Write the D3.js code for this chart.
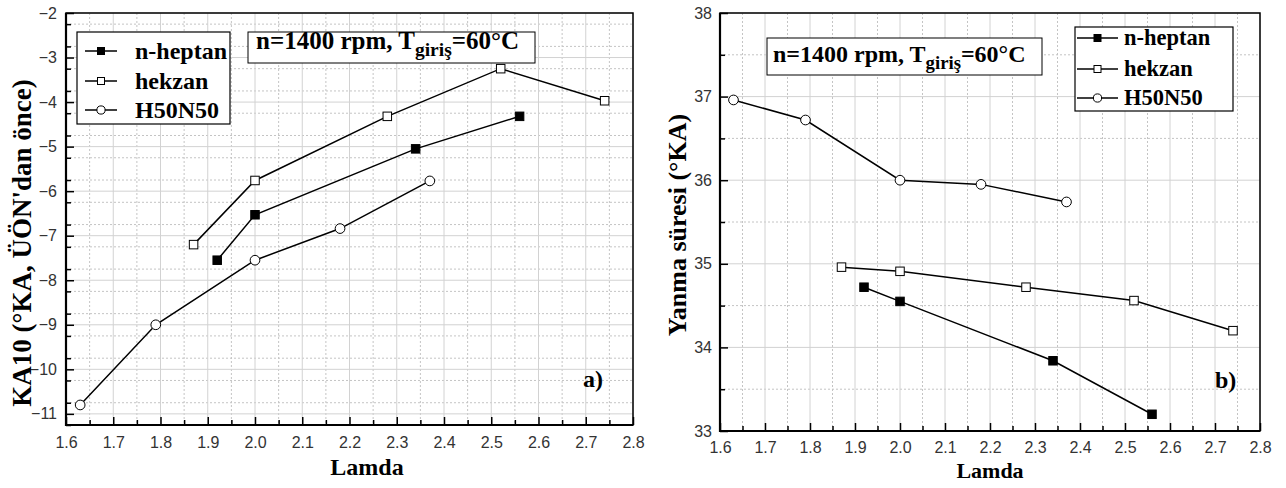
<!DOCTYPE html>
<html>
<head>
<meta charset="utf-8">
<script src="https://cdn.jsdelivr.net/npm/d3@7"></script>
<style>
  html, body { margin: 0; padding: 0; background: #fff; }
  svg { display: block; }
</style>
</head>
<body>
<svg id="chart" width="1286" height="488"></svg>
<script>
// ---------- DATA ----------
const seriesNames = ["n-heptan", "hekzan", "H50N50"];
const lamdaHeptan = [1.92, 2.0, 2.34, 2.56];
const lamdaHekzan = [1.87, 2.0, 2.28, 2.52, 2.74];
const lamdaH50N50 = [1.63, 1.79, 2.0, 2.18, 2.37];

const ka10Heptan = [-7.55, -6.53, -5.05, -4.32];
const ka10Hekzan = [-7.2, -5.76, -4.32, -3.25, -3.97];
const ka10H50N50 = [-10.8, -9.0, -7.55, -6.84, -5.77];

const yanmaHeptan = [34.72, 34.55, 33.84, 33.2];
const yanmaHekzan = [34.96, 34.91, 34.72, 34.56, 34.2];
const yanmaH50N50 = [36.96, 36.72, 36.0, 35.95, 35.74];

const xTickLabels = ["1.6","1.7","1.8","1.9","2.0","2.1","2.2","2.3","2.4","2.5","2.6","2.7","2.8"];
const leftYTicks = [-11, -10, -9, -8, -7, -6, -5, -4, -3, -2];
const rightYTicks = [33, 34, 35, 36, 37, 38];

const xLabel = "Lamda";
const leftYLabel = "KA10 (°KA, ÜÖN'dan önce)";
const rightYLabel = "Yanma süresi (°KA)";
// ---------------------------

const svg = d3.select("#chart");
const serif = "'Liberation Serif', 'Times New Roman', serif";
const sans = "'Liberation Sans', Arial, sans-serif";

function drawPanel(cfg) {
  const g = svg.append("g");
  const x = d3.scaleLinear().domain(cfg.xDomain).range([cfg.left, cfg.right]);
  const y = d3.scaleLinear().domain(cfg.yDomain).range([cfg.bottom, cfg.top]);

  const xMajor = xTickLabels.map(Number);
  const xMinor = xMajor.slice(0, -1).map(v => +(v + 0.05).toFixed(2));
  const yMajor = cfg.yTicks;
  const yMinor = [];
  for (let v = cfg.yDomain[0]; v <= cfg.yDomain[1] + 1e-9; v += 0.5) {
    if (!yMajor.some(t => Math.abs(t - v) < 1e-9)) yMinor.push(v);
  }

  // grid
  const grid = g.append("g");
  grid.selectAll(".gxm").data(xMinor).join("line")
    .attr("x1", d => x(d)).attr("x2", d => x(d))
    .attr("y1", cfg.top).attr("y2", cfg.bottom)
    .attr("stroke", "#c4c4c4").attr("stroke-width", 1).attr("stroke-dasharray", "2,2");
  grid.selectAll(".gym").data(yMinor).join("line")
    .attr("y1", d => y(d)).attr("y2", d => y(d))
    .attr("x1", cfg.left).attr("x2", cfg.right)
    .attr("stroke", "#c4c4c4").attr("stroke-width", 1).attr("stroke-dasharray", "2,2");
  grid.selectAll(".gx").data(xMajor).join("line")
    .attr("x1", d => x(d)).attr("x2", d => x(d))
    .attr("y1", cfg.top).attr("y2", cfg.bottom)
    .attr("stroke", "#d2d2d2").attr("stroke-width", 1);
  grid.selectAll(".gy").data(yMajor).join("line")
    .attr("y1", d => y(d)).attr("y2", d => y(d))
    .attr("x1", cfg.left).attr("x2", cfg.right)
    .attr("stroke", "#d2d2d2").attr("stroke-width", 1);

  // axes
  const xAxis = d3.axisBottom(x).tickValues(xMajor)
    .tickFormat((d, i) => xTickLabels[i]).tickSizeInner(-8).tickSizeOuter(0).tickPadding(cfg.xPad);
  const xAxisMinor = d3.axisBottom(x).tickValues(xMinor).tickFormat("").tickSizeInner(-5).tickSizeOuter(0);
  const yAxis = d3.axisLeft(y).tickValues(yMajor).tickFormat(d3.format("d"))
    .tickSizeInner(-8).tickSizeOuter(0).tickPadding(cfg.yPad);
  const yAxisMinor = d3.axisLeft(y).tickValues(yMinor).tickFormat("").tickSizeInner(-5).tickSizeOuter(0);

  [[xAxis, "x"], [xAxisMinor, "x"], [yAxis, "y"], [yAxisMinor, "y"]].forEach(([ax, t]) => {
    const a = g.append("g")
      .attr("transform", t === "x" ? `translate(0,${cfg.bottom})` : `translate(${cfg.left},0)`)
      .call(ax);
    a.select(".domain").remove();
    a.selectAll(".tick line").attr("stroke", "#000").attr("stroke-width", 1.5);
    a.selectAll(".tick text").attr("font-family", sans).attr("font-size", 16).attr("fill", "#333");
  });

  // frame
  g.append("rect").attr("x", cfg.left).attr("y", cfg.top)
    .attr("width", cfg.right - cfg.left).attr("height", cfg.bottom - cfg.top)
    .attr("fill", "none").attr("stroke", "#000").attr("stroke-width", 1.5);
  g.append("line").attr("x1", cfg.left).attr("x2", cfg.left).attr("y1", cfg.top).attr("y2", cfg.bottom + 1)
    .attr("stroke", "#000").attr("stroke-width", 2.2);
  g.append("line").attr("x1", cfg.left - 1).attr("x2", cfg.right).attr("y1", cfg.bottom).attr("y2", cfg.bottom)
    .attr("stroke", "#000").attr("stroke-width", 2.2);

  // series
  const line = d3.line().x(d => x(d[0])).y(d => y(d[1]));
  cfg.series.forEach((s, i) => {
    const pts = s.xs.map((v, j) => [v, s.ys[j]]);
    g.append("path").datum(pts).attr("d", line)
      .attr("fill", "none").attr("stroke", "#000").attr("stroke-width", 1.5);
    drawMarkers(g, pts.map(p => [x(p[0]), y(p[1])]), i, cfg.markerSize);
  });

  // legend
  const L = cfg.legend;
  g.append("rect").attr("x", L.x).attr("y", L.y).attr("width", L.w).attr("height", L.h)
    .attr("fill", "#fff").attr("stroke", "#000").attr("stroke-width", 1.2);
  seriesNames.forEach((name, i) => {
    const cy = L.rows[i];
    g.append("line").attr("x1", L.lx1).attr("x2", L.lx2).attr("y1", cy).attr("y2", cy)
      .attr("stroke", "#000").attr("stroke-width", 1.5);
    drawMarkers(g, [[(L.lx1 + L.lx2) / 2, cy]], i, L.ms);
    g.append("text").attr("x", L.tx).attr("y", cy + L.fs * 0.33)
      .attr("font-family", serif).attr("font-weight", "bold").attr("font-size", L.fs)
      .attr("fill", "#000").text(name);
  });

  // condition box
  const T = cfg.title;
  g.append("rect").attr("x", T.x).attr("y", T.y).attr("width", T.w).attr("height", T.h)
    .attr("fill", "#fff").attr("stroke", "#000").attr("stroke-width", 1);
  const tt = g.append("text").attr("x", T.tx).attr("y", T.ty)
    .attr("font-family", serif).attr("font-weight", "bold").attr("font-size", T.fs).attr("fill", "#000");
  tt.append("tspan").text("n=1400 rpm, T");
  tt.append("tspan").attr("font-size", T.fs * 0.78).attr("dy", T.sub).text("giriş");
  tt.append("tspan").attr("dy", -T.sub).text("=60°C");

  // panel label
  g.append("text").attr("x", cfg.tag.x).attr("y", cfg.tag.y)
    .attr("font-family", serif).attr("font-weight", "bold").attr("font-size", 24)
    .attr("fill", "#000").text(cfg.tag.text);

  // axis titles
  g.append("text").attr("x", cfg.xTitle.x).attr("y", cfg.xTitle.y).attr("text-anchor", "middle")
    .attr("font-family", serif).attr("font-weight", "bold").attr("font-size", cfg.xTitle.fs)
    .attr("fill", "#000").text(xLabel);
  g.append("text").attr("transform", `translate(${cfg.yTitle.x},${cfg.yTitle.y}) rotate(-90)`)
    .attr("text-anchor", "middle").attr("dy", "0.35em")
    .attr("font-family", serif).attr("font-weight", "bold").attr("font-size", cfg.yTitle.fs)
    .attr("fill", "#000").text(cfg.yTitle.text);
}

function drawMarkers(g, pts, type, size) {
  if (type === 2) {
    g.selectAll(null).data(pts).join("circle")
      .attr("cx", d => d[0]).attr("cy", d => d[1]).attr("r", size / 2 + 0.6)
      .attr("fill", "#fff").attr("stroke", "#000").attr("stroke-width", 1);
  } else {
    g.selectAll(null).data(pts).join("rect")
      .attr("x", d => d[0] - size / 2).attr("y", d => d[1] - size / 2)
      .attr("width", size).attr("height", size)
      .attr("fill", type === 0 ? "#000" : "#fff").attr("stroke", "#000").attr("stroke-width", 1);
  }
}

drawPanel({
  left: 66, right: 633, top: 13, bottom: 425,
  xDomain: [1.6, 2.8], yDomain: [-11.25, -2], yTicks: leftYTicks,
  xPad: 11.5, yPad: 9, markerSize: 8.5,
  series: [
    { xs: lamdaHeptan, ys: ka10Heptan },
    { xs: lamdaHekzan, ys: ka10Hekzan },
    { xs: lamdaH50N50, ys: ka10H50N50 }
  ],
  legend: { x: 77, y: 32, w: 153, h: 92, rows: [51, 81, 110], lx1: 85, lx2: 117, tx: 135, fs: 24, ms: 7 },
  title: { x: 248, y: 32, w: 287, h: 31, tx: 256, ty: 48.5, fs: 25, sub: 7 },
  tag: { x: 583, y: 387, text: "a)" },
  xTitle: { x: 367, y: 475, fs: 24 },
  yTitle: { x: 22, y: 243, fs: 27, text: leftYLabel }
});

drawPanel({
  left: 720, right: 1260, top: 13, bottom: 431,
  xDomain: [1.6, 2.8], yDomain: [33, 38], yTicks: rightYTicks,
  xPad: 10.5, yPad: 8, markerSize: 8.5,
  series: [
    { xs: lamdaHeptan, ys: yanmaHeptan },
    { xs: lamdaHekzan, ys: yanmaHekzan },
    { xs: lamdaH50N50, ys: yanmaH50N50 }
  ],
  legend: { x: 1075, y: 27, w: 158, h: 84, rows: [38, 69, 98], lx1: 1077, lx2: 1118, tx: 1124, fs: 22.5, ms: 7 },
  title: { x: 767, y: 38, w: 275, h: 37, tx: 773, ty: 61.5, fs: 24, sub: 7 },
  tag: { x: 1215, y: 388, text: "b)" },
  xTitle: { x: 990, y: 478, fs: 22 },
  yTitle: { x: 677, y: 225, fs: 26, text: rightYLabel }
});
</script>
</body>
</html>
